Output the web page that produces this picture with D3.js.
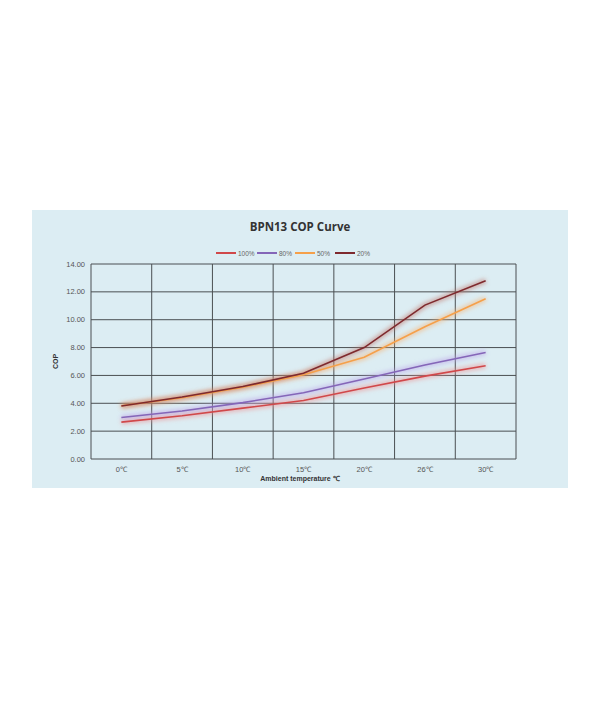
<!DOCTYPE html>
<html>
<head>
<meta charset="utf-8">
<script src="https://cdn.jsdelivr.net/npm/d3@7"></script>
<style>
  body { margin: 0; background: #ffffff; }
  svg { display: block; }
</style>
</head>
<body>
<svg id="chart" width="600" height="702"></svg>
<script>
// chart data
var categories = ['0℃', '5℃', '10℃', '15℃', '20℃', '26℃', '30℃'];
var seriesNames = ['100%', '80%', '50%', '20%'];
var seriesColors = ['#d0484a', '#8466b8', '#f5a04a', '#7e2a2e'];
var glowColors = ['#f08a8a', '#b9a0e8', '#f7b070', '#c07060'];
var cop100 = [2.65, 3.1, 3.65, 4.2, 5.1, 5.95, 6.7];
var cop80 = [2.98, 3.45, 4.05, 4.75, 5.75, 6.75, 7.65];
var cop50 = [3.82, 4.4, 5.15, 6.05, 7.3, 9.5, 11.5];
var cop20 = [3.8, 4.45, 5.2, 6.15, 8.0, 11.05, 12.8];
var yTicks = [0, 2, 4, 6, 8, 10, 12, 14];

var seriesValues = [cop100, cop80, cop50, cop20];

var svg = d3.select('#chart');

// panel
svg.append('rect')
    .attr('x', 32).attr('y', 210)
    .attr('width', 536).attr('height', 278)
    .style('fill', '#dcedf3');

var plot = { left: 91, top: 264, width: 425, height: 195 };

var x = d3.scaleBand()
    .domain(categories)
    .range([plot.left, plot.left + plot.width]);

var y = d3.scaleLinear()
    .domain([0, 14])
    .range([plot.top + plot.height, plot.top]);

var defs = svg.append('defs');
defs.append('filter')
    .attr('id', 'glow')
    .attr('x', '-10%').attr('y', '-50%')
    .attr('width', '120%').attr('height', '200%')
    .append('feGaussianBlur')
    .attr('stdDeviation', 2.2);

// horizontal grid
svg.append('g')
    .selectAll('line')
    .data(yTicks)
    .enter().append('line')
    .attr('x1', plot.left)
    .attr('x2', plot.left + plot.width)
    .attr('y1', function(d){ return y(d); })
    .attr('y2', function(d){ return y(d); })
    .style('stroke', '#4a4f52')
    .style('stroke-width', 1);

// vertical grid at band edges
var edges = categories.map(function(c){ return x(c); });
edges.push(plot.left + plot.width);
svg.append('g')
    .selectAll('line')
    .data(edges)
    .enter().append('line')
    .attr('x1', function(d){ return d; })
    .attr('x2', function(d){ return d; })
    .attr('y1', plot.top)
    .attr('y2', plot.top + plot.height)
    .style('stroke', '#4a4f52')
    .style('stroke-width', 1);

// y tick labels
svg.append('g')
    .selectAll('text')
    .data(yTicks)
    .enter().append('text')
    .attr('x', plot.left - 6)
    .attr('y', function(d){ return y(d) + 2.5; })
    .attr('text-anchor', 'end')
    .style('font-family', 'Liberation Sans, Arial, sans-serif')
    .style('font-size', '7.5px')
    .style('fill', '#555')
    .text(function(d){ return d3.format('.2f')(d); });

// x tick labels
svg.append('g')
    .selectAll('text')
    .data(categories)
    .enter().append('text')
    .attr('x', function(d){ return x(d) + x.bandwidth() / 2; })
    .attr('y', 472)
    .attr('text-anchor', 'middle')
    .style('font-family', 'Liberation Sans, Arial, sans-serif')
    .style('font-size', '7.5px')
    .style('fill', '#555')
    .text(function(d){ return d; });

var line = d3.line()
    .x(function(d, i){ return x(categories[i]) + x.bandwidth() / 2; })
    .y(function(d){ return y(d); });

// glow under lines
svg.append('g')
    .selectAll('path')
    .data(seriesValues)
    .enter().append('path')
    .attr('d', line)
    .attr('filter', 'url(#glow)')
    .style('fill', 'none')
    .style('stroke', function(d, i){ return glowColors[i]; })
    .style('stroke-width', 5)
    .style('stroke-opacity', 0.55);

svg.append('g')
    .selectAll('path')
    .data(seriesValues)
    .enter().append('path')
    .attr('d', line)
    .style('fill', 'none')
    .style('stroke', function(d, i){ return seriesColors[i]; })
    .style('stroke-width', 1.6);

// title
svg.append('text')
    .attr('x', 300).attr('y', 231)
    .attr('text-anchor', 'middle')
    .style('font-family', 'Open Sans, DejaVu Sans, sans-serif')
    .style('font-weight', 'bold')
    .style('font-size', '11.5px')
    .style('fill', '#333')
    .text('BPN13 COP Curve');

// legend
var legendX = [216, 257, 295, 335];
var legend = svg.append('g')
    .selectAll('g')
    .data(seriesNames)
    .enter().append('g')
    .attr('transform', function(d, i){ return 'translate(' + legendX[i] + ',253)'; });
legend.append('line')
    .attr('x1', 0).attr('x2', 20)
    .style('stroke', function(d, i){ return seriesColors[i]; })
    .style('stroke-width', 2);
legend.append('text')
    .attr('x', 22).attr('y', 2.5)
    .style('font-family', 'Liberation Sans, Arial, sans-serif')
    .style('font-size', '6.5px')
    .style('fill', '#666')
    .text(function(d){ return d; });

// axis titles
svg.append('text')
    .attr('x', 300).attr('y', 481)
    .attr('text-anchor', 'middle')
    .style('font-family', 'Liberation Sans, Arial, sans-serif')
    .style('font-weight', 'bold')
    .style('font-size', '7px')
    .style('fill', '#333')
    .text('Ambient temperature ℃');

svg.append('text')
    .attr('transform', 'translate(58,' + (plot.top + plot.height / 2) + ') rotate(-90)')
    .attr('text-anchor', 'middle')
    .style('font-family', 'Liberation Sans, Arial, sans-serif')
    .style('font-weight', 'bold')
    .style('font-size', '7px')
    .style('fill', '#333')
    .text('COP');
</script>
</body>
</html>
